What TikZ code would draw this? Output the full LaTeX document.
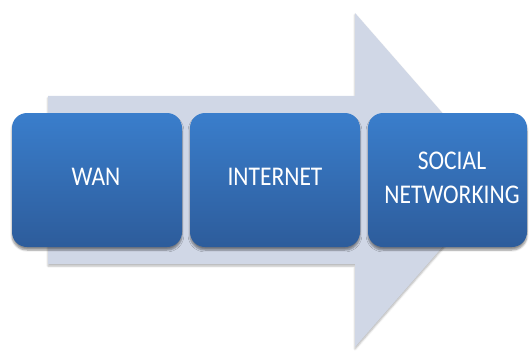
\documentclass[tikz,border=0pt]{standalone}
\usepackage{fontspec}
\setmainfont{Carlito}
\usetikzlibrary{shadows.blur}
\definecolor{arrowfill}{RGB}{208,215,230}
\definecolor{boxtop}{RGB}{58,126,204}
\definecolor{boxbottom}{RGB}{45,92,155}
% tall label text, stretched vertically
\newcommand{\stagetext}[1]{\scalebox{1}[1.15]{\begin{tabular}{@{}c@{}}#1\end{tabular}}}
\tikzset{
  stagebox/.style={rounded corners=15pt, top color=boxtop, bottom color=boxbottom,
    draw=none, blur shadow={shadow xshift=0pt, shadow yshift=-3pt, shadow blur steps=6, shadow opacity=45}},
  stagelabel/.style={text=white, inner sep=0pt, font=\fontsize{23.5}{29.2}\selectfont},
  bigarrow/.style={fill=arrowfill, draw=none,
    blur shadow={shadow xshift=0pt, shadow yshift=-2pt, shadow blur steps=4, shadow opacity=30}}
}
\begin{document}
\begin{tikzpicture}[x=1pt,y=-1pt]
\useasboundingbox (0,0) rectangle (529,350);
% background arrow
\path[bigarrow] (48,96) -- (355,96) -- (355,13) -- (501,180) -- (355,347) -- (355,264) -- (48,264) -- cycle;
% stages
\path[stagebox] (12,113) rectangle (182,247);
\node[stagelabel] (wan) at (96,179) {\stagetext{WAN}};
\path[stagebox] (190,113) rectangle (360,247);
\node[stagelabel] (internet) at (275,179) {\stagetext{INTERNET}};
\path[stagebox] (368,113) rectangle (527,247);
\node[stagelabel] (social) at (452,179.5) {\stagetext{SOCIAL\\NETWORKING}};
\end{tikzpicture}
\end{document}
